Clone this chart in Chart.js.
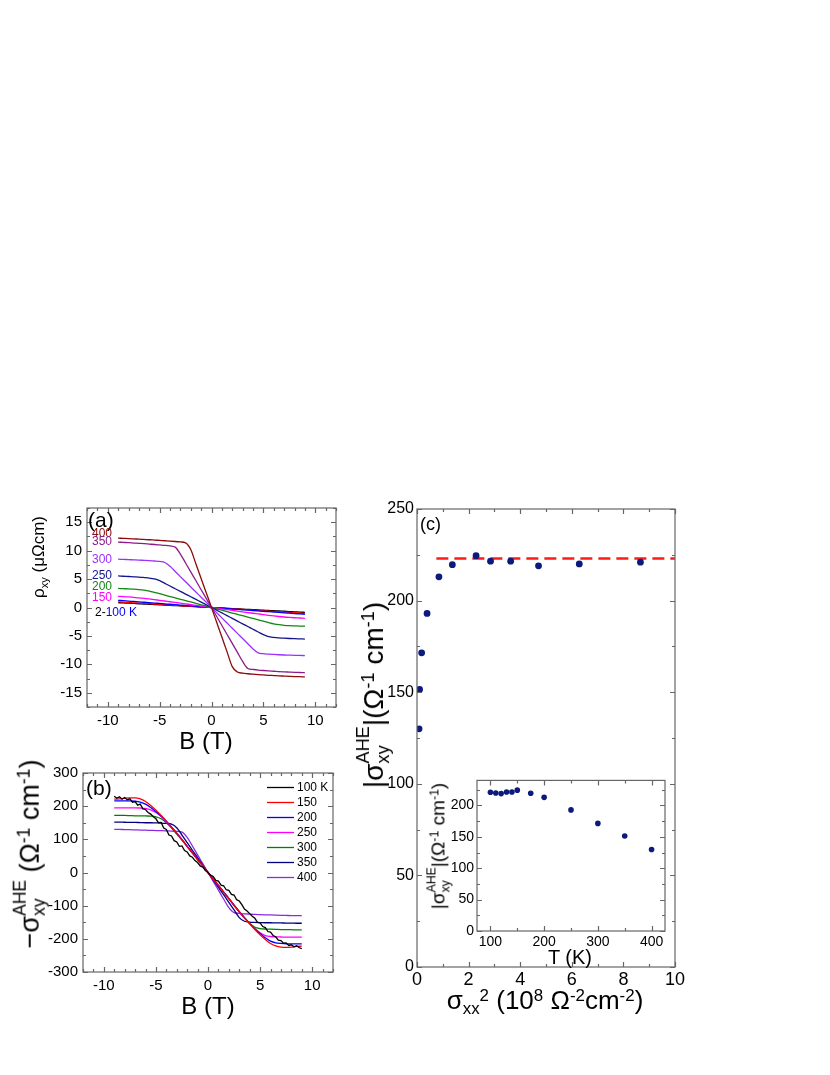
<!DOCTYPE html>
<html lang="en">
<head>
<meta charset="utf-8">
<title>Anomalous Hall conductivity</title>
<script src="https://cdn.jsdelivr.net/npm/chart.js@4.4.1/dist/chart.umd.min.js"></script>
<style>
  html, body { margin: 0; padding: 0; background: #fff; }
  body { position: relative; width: 830px; height: 1075px; overflow: hidden;
         font-family: Arial, "Liberation Sans", Helvetica, sans-serif; color: #000; }
  canvas { position: absolute; }
  .t { position: absolute; white-space: nowrap; line-height: 1; transform: translate(-50%, -50%); }
  .r { transform: translate(-50%, -50%) rotate(-90deg); }
  .lab { position: absolute; white-space: nowrap; line-height: 1; transform: translateY(-50%); }
  .tag { font-size: 12px; }
  sub, sup { font-size: 0.65em; line-height: 0; position: relative; vertical-align: baseline; }
  sub { top: 0.32em; }
  sup { top: -0.5em; }
  .ss { display: inline-block; font-size: 0.65em; line-height: 1.1; vertical-align: -0.35em; }
  .ss i { display: block; font-style: normal; }
</style>
</head>
<body>
<canvas id="chartA"></canvas>
<canvas id="chartB"></canvas>
<canvas id="chartC"></canvas>
<canvas id="chartInset"></canvas>

<!-- panel letters -->
<div class="lab" style="left:88px;top:519px;font-size:21px">(a)</div>
<div class="lab" style="left:86px;top:787px;font-size:21px">(b)</div>
<div class="lab" style="left:420px;top:524px;font-size:18px">(c)</div>

<!-- temperature tags in (a) -->
<div class="lab tag" style="left:92px;top:533px;color:#8b0a0a">400</div>
<div class="lab tag" style="left:92px;top:541px;color:#8c1c8c">350</div>
<div class="lab tag" style="left:92px;top:559px;color:#9b30ff">300</div>
<div class="lab tag" style="left:92px;top:575px;color:#14148c">250</div>
<div class="lab tag" style="left:92px;top:586px;color:#118811">200</div>
<div class="lab tag" style="left:92px;top:597px;color:#ff00ff">150</div>
<div class="lab tag" style="left:95px;top:612px">2-<span style="color:#0000ff">100 K</span></div>

<!-- axis titles -->
<div class="t" style="left:206px;top:741px;font-size:24px">B (T)</div>
<div class="t" style="left:208px;top:1006px;font-size:24px">B (T)</div>
<div class="t r" style="left:38px;top:557px;font-size:17px">ρ<sub>xy</sub> (μΩcm)</div>
<div class="t r" style="left:30px;top:854px;font-size:27px">−σ<span class="ss"><i>AHE</i><i>xy</i></span> (Ω<sup>-1</sup> cm<sup>-1</sup>)</div>
<div class="t r" style="left:373px;top:695px;font-size:28px">|σ<span class="ss"><i>AHE</i><i>xy</i></span>|(Ω<sup>-1</sup> cm<sup>-1</sup>)</div>
<div class="t" style="left:545px;top:1000px;font-size:26px">σ<sub>xx</sub><sup>2</sup> (10<sup>8</sup> Ω<sup>-2</sup>cm<sup>-2</sup>)</div>
<div class="t r" style="left:439px;top:846px;font-size:19px">|σ<span class="ss"><i>AHE</i><i>xy</i></span>|(Ω<sup>-1</sup> cm<sup>-1</sup>)</div>
<div class="t" style="left:570px;top:957px;font-size:20px">T (K)</div>

<script>
// ---------- values ----------

// field grid (T) for the smooth curves of (a) and (b)
const fieldT = [-9, -8.5, -8, -7.5, -7, -6.5, -6, -5.5, -5, -4.5, -4, -3.5, -3, -2.5, -2, -1.5, -1, -0.5, 0,
                0.5, 1, 1.5, 2, 2.5, 3, 3.5, 4, 4.5, 5, 5.5, 6, 6.5, 7, 7.5, 8, 8.5, 9];

// (a) rho_xy (µΩcm)
const rho2K   = [0.85, 0.80, 0.76, 0.71, 0.66, 0.61, 0.57, 0.52, 0.47, 0.42, 0.38, 0.33, 0.28, 0.24, 0.19, 0.14, 0.09, 0.05, 0,
                 -0.05, -0.09, -0.14, -0.19, -0.24, -0.28, -0.33, -0.38, -0.42, -0.47, -0.52, -0.57, -0.61, -0.66, -0.71, -0.76, -0.80, -0.85];
const rho50K  = [1.00, 0.94, 0.89, 0.83, 0.78, 0.72, 0.67, 0.61, 0.56, 0.50, 0.44, 0.39, 0.33, 0.28, 0.22, 0.17, 0.11, 0.06, 0,
                 -0.06, -0.11, -0.17, -0.23, -0.29, -0.34, -0.40, -0.46, -0.52, -0.58, -0.63, -0.69, -0.75, -0.81, -0.87, -0.92, -0.98, -1.04];
const rho100K = [1.27, 1.20, 1.13, 1.06, 0.99, 0.92, 0.85, 0.78, 0.71, 0.64, 0.57, 0.50, 0.43, 0.36, 0.28, 0.21, 0.14, 0.07, 0,
                 -0.07, -0.13, -0.20, -0.27, -0.33, -0.40, -0.47, -0.53, -0.60, -0.67, -0.73, -0.80, -0.87, -0.93, -1.00, -1.07, -1.13, -1.20];
const rho150K = [1.97, 1.92, 1.86, 1.78, 1.70, 1.60, 1.50, 1.38, 1.26, 1.14, 1.01, 0.89, 0.76, 0.63, 0.51, 0.38, 0.25, 0.13, 0,
                 -0.13, -0.25, -0.38, -0.51, -0.63, -0.76, -0.89, -1.01, -1.13, -1.25, -1.37, -1.48, -1.58, -1.67, -1.74, -1.80, -1.85, -1.90];
const rho200K = [3.35, 3.31, 3.27, 3.22, 3.15, 3.04, 2.88, 2.66, 2.42, 2.17, 1.93, 1.69, 1.45, 1.21, 0.97, 0.73, 0.48, 0.24, 0,
                 -0.24, -0.48, -0.73, -0.97, -1.21, -1.45, -1.69, -1.93, -2.17, -2.41, -2.65, -2.87, -3.03, -3.13, -3.19, -3.23, -3.27, -3.30];
const rho250K = [5.55, 5.50, 5.45, 5.40, 5.35, 5.27, 5.18, 5.02, 4.72, 4.25, 3.78, 3.30, 2.83, 2.36, 1.89, 1.42, 0.94, 0.47, 0,
                 -0.47, -0.95, -1.43, -1.91, -2.39, -2.87, -3.35, -3.83, -4.31, -4.78, -5.13, -5.26, -5.34, -5.40, -5.45, -5.49, -5.52, -5.55];
const rho300K = [8.50, 8.46, 8.42, 8.38, 8.34, 8.29, 8.24, 8.18, 8.10, 7.92, 7.24, 6.34, 5.43, 4.53, 3.62, 2.72, 1.81, 0.91, 0,
                 -0.91, -1.82, -2.73, -3.64, -4.55, -5.46, -6.37, -7.28, -7.98, -8.13, -8.20, -8.26, -8.31, -8.35, -8.38, -8.41, -8.43, -8.45];
const rho350K = [11.50, 11.45, 11.40, 11.34, 11.28, 11.22, 11.15, 11.08, 11.00, 10.92, 10.82, 10.62, 9.40, 7.83, 6.26, 4.70, 3.13, 1.57, 0,
                 -1.58, -3.16, -4.74, -6.32, -7.90, -9.48, -10.72, -10.90, -11.00, -11.08, -11.15, -11.21, -11.27, -11.32, -11.36, -11.40, -11.43, -11.46];
const rho400K = [12.20, 12.16, 12.12, 12.07, 12.02, 11.97, 11.92, 11.86, 11.80, 11.74, 11.68, 11.61, 11.53, 11.38, 10.20, 7.65, 5.10, 2.55, 0,
                 -2.60, -5.20, -7.80, -10.40, -11.35, -11.55, -11.65, -11.73, -11.80, -11.86, -11.92, -11.97, -12.02, -12.06, -12.10, -12.14, -12.17, -12.20];

// (b) -sigma_xy^AHE (Ω^-1 cm^-1); the 100 K trace is noisy and sampled finer
const noisyFieldT = [-9, -8.75, -8.5, -8.25, -8, -7.75, -7.5, -7.25, -7, -6.75, -6.5, -6.25, -6, -5.75, -5.5, -5.25, -5, -4.75,
                     -4.5, -4.25, -4, -3.75, -3.5, -3.25, -3, -2.75, -2.5, -2.25, -2, -1.75, -1.5, -1.25, -1, -0.75, -0.5, -0.25, 0,
                     0.25, 0.5, 0.75, 1, 1.25, 1.5, 1.75, 2, 2.25, 2.5, 2.75, 3, 3.25, 3.5, 3.75, 4, 4.25, 4.5,
                     4.75, 5, 5.25, 5.5, 5.75, 6, 6.25, 6.5, 6.75, 7, 7.25, 7.5, 7.75, 8, 8.25, 8.5, 8.75, 9];
const sig100K = [230, 224, 228, 221, 226, 219, 222, 212, 214, 203, 206, 192, 190, 181, 176, 168, 162, 150,
                 151, 134, 130, 113, 110, 96, 92, 79, 80, 66, 62, 50, 46, 36, 30, 20, 16, 6, 0,
                 -8, -12, -24, -26, -38, -40, -52, -54, -66, -68, -82, -86, -97, -110, -116, -124, -132, -138,
                 -150, -152, -163, -166, -178, -180, -190, -194, -204, -205, -213, -212, -220, -218, -224, -221, -226, -230];
const sig150K = [221, 222, 224, 225, 225, 222, 214, 202, 188, 172, 155, 137, 118, 99, 79, 59, 39, 20, 0,
                 -20, -39, -59, -79, -99, -118, -137, -155, -172, -188, -202, -214, -221, -225, -226, -225, -223, -222];
const sig200K = [216, 216, 216, 216, 215, 212, 206, 196, 184, 170, 154, 137, 118, 99, 79, 59, 40, 20, 0,
                 -20, -40, -59, -79, -99, -118, -137, -154, -170, -184, -197, -207, -212, -214, -215, -215, -215, -215];
const sig250K = [195, 195, 195, 195, 195, 194.5, 193, 189, 181, 169, 154, 137, 119, 99, 79, 59, 39, 20, 0,
                 -20, -39, -59, -79, -99, -119, -137, -154, -169, -182, -190, -193, -194, -194.5, -195, -195, -195, -195];
const sig300K = [172, 172, 172, 171.5, 171, 171, 170.5, 170, 168, 162, 150, 134, 116, 98, 78, 59, 39, 20, 0,
                 -20, -39, -59, -78, -98, -117, -136, -153, -165, -169, -170.5, -171, -171.5, -172, -172, -172.5, -173, -173];
const sig350K = [152, 152, 151.5, 151, 151, 150.5, 150, 150, 149.5, 149, 148, 146, 135, 113, 90, 67, 45, 22, 0,
                 -22, -45, -67, -90, -113, -136, -147, -149.5, -150.5, -151, -151.5, -151.5, -152, -152, -152.5, -152.5, -153, -153];
const sig400K = [130, 130, 129.5, 129, 128.5, 128, 127.5, 127, 126.5, 126, 125.5, 125, 124, 122, 106, 80, 53, 27, 0,
                 -27, -53, -80, -106, -121, -123, -124.5, -125.5, -126.5, -127, -127.5, -128, -128.5, -129, -129.5, -130, -130, -130];
const legendLabels = ['100 K', '150', '200', '250', '300', '350', '400'];

// (c) and inset: one point per temperature
const tempK     = [100, 110, 120, 130, 140, 150, 175, 200, 250, 300, 350, 400];
const sigmaXX2  = [8.66, 6.29, 4.71, 3.63, 2.85, 2.29, 1.37, 0.85, 0.39, 0.18, 0.10, 0.08];
const sigmaAHE  = [221, 220, 219, 221.5, 221.5, 224.5, 219.6, 213, 193, 171.5, 151.5, 130];
const plateauAHE = 223;
const plateauFrom = 0.75;

// tick labels
const aTicksX = [-10, -5, 0, 5, 10], aTicksY = [-15, -10, -5, 0, 5, 10, 15];
const bTicksX = [-10, -5, 0, 5, 10], bTicksY = [-300, -200, -100, 0, 100, 200, 300];
const cTicksX = [0, 2, 4, 6, 8, 10], cTicksY = [0, 50, 100, 150, 200, 250];
const insetTicksX = [100, 200, 300, 400], insetTicksY = [0, 50, 100, 150, 200];

// ---------- drawing ----------
Chart.defaults.font.family = 'Arial, "Liberation Sans", Helvetica, sans-serif';
Chart.defaults.color = '#000';

function xy(xs, ys) { return xs.map((x, i) => ({x: x, y: ys[i]})); }

function curve(label, xs, ys, color, smooth) {
    return {
        label: label, data: xy(xs, ys),
        borderColor: color, backgroundColor: color,
        borderWidth: 1.3, pointRadius: 0, fill: false, tension: 0,
        cubicInterpolationMode: smooth ? 'monotone' : 'default'
    };
}

// boxed frame with inward major + minor ticks on all four sides
const framePlugin = {
    id: 'frame',
    afterDatasetsDraw(chart, args, o) {
        const ctx = chart.ctx, a = chart.chartArea;
        const xs = chart.scales.x, ys = chart.scales.y;
        const marks = (scale, step) => {
            const major = scale.ticks.map(t => t.value), minor = [];
            for (let v = Math.ceil(scale.min / step - 1e-9) * step; v <= scale.max + 1e-9; v += step) {
                if (!major.some(m => Math.abs(m - v) < 1e-6)) minor.push(v);
            }
            return {major, minor};
        };
        const X = marks(xs, o.xMinor), Y = marks(ys, o.yMinor);
        ctx.save();
        ctx.strokeStyle = '#666';
        ctx.lineWidth = 1.2;
        ctx.beginPath();
        const vx = (list, len) => list.forEach(v => {
            const p = Math.round(xs.getPixelForValue(v)) + 0.5;
            ctx.moveTo(p, a.bottom); ctx.lineTo(p, a.bottom - len);
            ctx.moveTo(p, a.top); ctx.lineTo(p, a.top + len);
        });
        const vy = (list, len) => list.forEach(v => {
            const p = Math.round(ys.getPixelForValue(v)) + 0.5;
            ctx.moveTo(a.left, p); ctx.lineTo(a.left + len, p);
            ctx.moveTo(a.right, p); ctx.lineTo(a.right - len, p);
        });
        vx(X.major, 5); vx(X.minor, 3);
        vy(Y.major, 5); vy(Y.minor, 3);
        ctx.stroke();
        ctx.strokeRect(a.left, a.top, a.right - a.left, a.bottom - a.top);
        ctx.restore();
    }
};

// short-line legend drawn inside the plot area of (b)
const lineLegend = {
    id: 'lineLegend',
    afterDraw(chart, args, o) {
        const ctx = chart.ctx, a = chart.chartArea;
        ctx.save();
        ctx.font = o.size + 'px ' + Chart.defaults.font.family;
        ctx.textBaseline = 'middle';
        ctx.fillStyle = '#000';
        chart.data.datasets.forEach((ds, i) => {
            const y = a.top + o.top + i * o.gap;
            ctx.strokeStyle = ds.borderColor;
            ctx.lineWidth = 1.3;
            ctx.beginPath();
            ctx.moveTo(a.left + o.left, y);
            ctx.lineTo(a.left + o.left + o.len, y);
            ctx.stroke();
            ctx.fillText(ds.label, a.left + o.left + o.len + 3, y + 0.5);
        });
        ctx.restore();
    }
};

function axis(c, fit) {
    return {
        type: 'linear', min: c.min, max: c.max,
        grid: {display: false, drawTicks: false},
        border: {display: false},
        ticks: {font: {size: c.size}, padding: c.pad, color: '#000', autoSkip: false, maxRotation: 0, includeBounds: false},
        afterBuildTicks: s => { s.ticks = c.ticks.map(v => ({value: v})); },
        afterFit: fit
    };
}

function panel(id, box, pad, x, y, datasets, extraPlugins, extraOpts) {
    const cv = document.getElementById(id);
    cv.width = Math.round(box.r - box.l + pad.l + pad.r);
    cv.height = Math.round(box.b - box.t + pad.t + pad.b);
    cv.style.left = (box.l - pad.l) + 'px';
    cv.style.top = (box.t - pad.t) + 'px';
    const pluginOpts = Object.assign({
        legend: {display: false},
        tooltip: {enabled: false},
        frame: {xMinor: x.minor, yMinor: y.minor}
    }, extraOpts || {});
    return new Chart(cv, {
        type: 'line',
        data: {datasets: datasets},
        options: {
            responsive: false, animation: false, events: [],
            layout: {padding: {left: 0, top: pad.t, right: pad.r, bottom: 0}},
            plugins: pluginOpts,
            scales: {
                x: axis(x, s => { s.height = pad.b; }),
                y: axis(y, s => { s.width = pad.l; })
            }
        },
        plugins: [framePlugin].concat(extraPlugins || [])
    });
}

// (a)
panel('chartA', {l: 87, t: 506, r: 336, b: 707}, {l: 50, t: 12, r: 16, b: 30},
    {min: -12, max: 12, ticks: aTicksX, minor: 1, size: 15, pad: 5},
    {min: -17.5, max: 17.5, ticks: aTicksY, minor: 2.5, size: 15, pad: 5},
    [
        curve('400 K', fieldT, rho400K, '#8b0a0a', true),
        curve('350 K', fieldT, rho350K, '#8c1c8c', true),
        curve('300 K', fieldT, rho300K, '#9b30ff', true),
        curve('250 K', fieldT, rho250K, '#14148c', true),
        curve('200 K', fieldT, rho200K, '#118811', true),
        curve('150 K', fieldT, rho150K, '#ff00ff', true),
        curve('100 K', fieldT, rho100K, '#0000ff', true),
        curve('50 K', fieldT, rho50K, '#ff0000', true),
        curve('2 K', fieldT, rho2K, '#000000', true)
    ]);

// (b)
panel('chartB', {l: 83, t: 770.5, r: 333, b: 971}, {l: 50, t: 12, r: 16, b: 30},
    {min: -12, max: 12, ticks: bTicksX, minor: 1, size: 15, pad: 5},
    {min: -300, max: 300, ticks: bTicksY, minor: 50, size: 15, pad: 5},
    [
        curve(legendLabels[0], noisyFieldT, sig100K, '#000000', false),
        curve(legendLabels[1], fieldT, sig150K, '#ff0000', true),
        curve(legendLabels[2], fieldT, sig200K, '#0000ff', true),
        curve(legendLabels[3], fieldT, sig250K, '#ff00ff', true),
        curve(legendLabels[4], fieldT, sig300K, '#008000', true),
        curve(legendLabels[5], fieldT, sig350K, '#000080', true),
        curve(legendLabels[6], fieldT, sig400K, '#8a2be2', true)
    ],
    [lineLegend],
    {lineLegend: {left: 184, len: 27, top: 14.5, gap: 15, size: 12}});

// (c)
panel('chartC', {l: 417, t: 509, r: 675, b: 967}, {l: 52, t: 14, r: 18, b: 30},
    {min: 0, max: 10, ticks: cTicksX, minor: 1, size: 18, pad: 2},
    {min: 0, max: 250, ticks: cTicksY, minor: 25, size: 16, pad: 3},
    [
        {
            label: '|σxy AHE|', data: xy(sigmaXX2, sigmaAHE), showLine: false,
            pointRadius: 3.4, pointBackgroundColor: '#0c1a7c', pointBorderWidth: 0
        },
        {
            label: 'plateau', data: xy([plateauFrom, 10], [plateauAHE, plateauAHE]),
            borderColor: '#ff1a1a', borderWidth: 2.6, borderDash: [12, 6], pointRadius: 0, fill: false
        }
    ]);

// inset of (c)
panel('chartInset', {l: 477, t: 779, r: 665, b: 931}, {l: 40, t: 10, r: 14, b: 24},
    {min: 75, max: 425, ticks: insetTicksX, minor: 50, size: 14, pad: 3},
    {min: 0, max: 240, ticks: insetTicksY, minor: 25, size: 14, pad: 3},
    [
        {
            label: '|σxy AHE| vs T', data: xy(tempK, sigmaAHE), showLine: false,
            pointRadius: 2.8, pointBackgroundColor: '#0c1a7c', pointBorderWidth: 0
        }
    ]);
</script>
</body>
</html>
